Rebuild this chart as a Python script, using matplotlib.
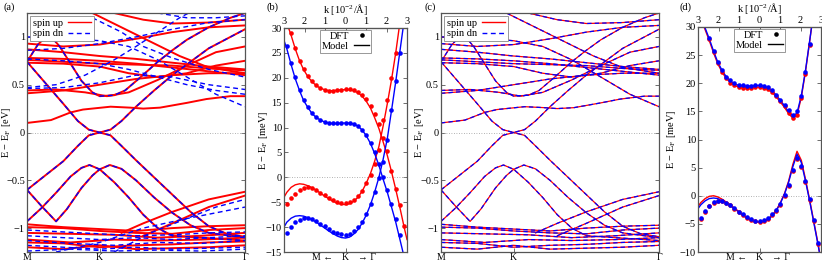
import numpy as np
import matplotlib
matplotlib.use("Agg")
import matplotlib.pyplot as plt

plt.rcParams['font.family'] = ['Liberation Serif', 'DejaVu Serif']
plt.rcParams['mathtext.fontset'] = 'stix'
plt.rcParams['font.size'] = 7.5

RED = '#ff0000'
BLUE = '#0000ff'
FRAME = '#555555'

# ---- panel (a)/(c): bands along M(0) - K(1) - Gamma(3), energies in eV ----
# bands degenerate for both spins in (a)
bands_both = [
    [(0, -0.60), (0.25, -0.45), (0.5, -0.30), (0.7, -0.14), (0.85, -0.03), (1.0, 0.0), (1.15, -0.03),
     (1.3, -0.14), (1.5, -0.29), (1.75, -0.47), (2.0, -0.65), (2.25, -0.83), (2.5, -0.98), (2.75, -1.06), (3.0, -1.09)],
    [(0, -0.60), (0.2, -0.77), (0.4, -0.93), (0.55, -0.80), (0.75, -0.58), (0.9, -0.45), (1.0, -0.385), (1.14, -0.34),
     (1.3, -0.38), (1.5, -0.50), (1.75, -0.68), (2.0, -0.84), (2.25, -0.97), (2.5, -1.05), (3.0, -1.10)],
    [(0, -0.93), (0.2, -0.79), (0.4, -0.63), (0.6, -0.46), (0.75, -0.37), (0.86, -0.34), (1.0, -0.385),
     (1.2, -0.52), (1.4, -0.68), (1.6, -0.86), (1.8, -1.0), (2.0, -1.08), (3.0, -1.13)],
    [(0, 0.74), (0.25, 0.52), (0.5, 0.30), (0.7, 0.12), (0.85, 0.03), (1.0, 0.0), (1.15, 0.03), (1.3, 0.12),
     (1.5, 0.27), (1.75, 0.44), (2.0, 0.60), (2.5, 0.88), (3.0, 1.08)],
    [(0, 0.74), (0.15, 0.92), (0.3, 1.03), (0.45, 0.90), (0.6, 0.72), (0.75, 0.54), (0.9, 0.42), (1.0, 0.38),
     (1.2, 0.39), (1.35, 0.44), (1.55, 0.57), (1.8, 0.74), (2.0, 0.86), (2.2, 0.97), (2.5, 1.10), (2.8, 1.20), (3.0, 1.25)],
]

# spin-up only bands in (a)
bands_up = [
    [(0, 0.10), (0.33, 0.13), (0.6, 0.21), (0.77, 0.24), (1.15, 0.27), (1.42, 0.26), (1.6, 0.25), (1.83, 0.26),
     (2.2, 0.31), (2.47, 0.35), (2.8, 0.38), (3.0, 0.38)],
    [(0, 0.41), (0.5, 0.44), (1.0, 0.50), (1.5, 0.56), (2.0, 0.60), (2.5, 0.62), (3.0, 0.62)],
    [(0, 0.44), (0.4, 0.45), (0.8, 0.42), (1.1, 0.38), (1.4, 0.42), (1.8, 0.55), (2.2, 0.70), (2.6, 0.84), (3.0, 0.90)],
    [(0, 0.78), (0.5, 0.77), (1.0, 0.75), (1.5, 0.72), (2.0, 0.68), (2.5, 0.64), (3.0, 0.60)],
    [(0, 0.76), (0.5, 0.74), (1.0, 0.72), (1.5, 0.71), (2.0, 0.70), (2.5, 0.67), (3.0, 0.65)],
    [(0, 0.73), (0.5, 0.72), (1.0, 0.69), (1.4, 0.62), (1.8, 0.58), (2.2, 0.62), (2.6, 0.70), (3.0, 0.75)],
    [(0, 0.87), (0.5, 0.84), (1.0, 0.80), (1.5, 0.77), (2.0, 0.73), (2.5, 0.69), (3.0, 0.66)],
    [(0, 0.93), (0.5, 0.90), (1.0, 0.92), (1.5, 0.98), (2.0, 1.05), (2.5, 1.10), (3.0, 1.12)],
    [(1.2, 1.25), (1.6, 1.18), (2.0, 1.14), (2.5, 1.15), (3.0, 1.18)],
    [(0.9, 1.25), (1.3, 1.10), (1.7, 0.95), (2.1, 0.80), (2.5, 0.68), (3.0, 0.62)],
    [(1.3, -1.05), (1.6, -0.95), (2.0, -0.83), (2.5, -0.70), (3.0, -0.62)],
    [(1.6, -1.08), (2.0, -0.95), (2.5, -0.78), (3.0, -0.66)],
    [(0, -0.96), (0.5, -0.99), (1.0, -1.01), (1.5, -1.03), (2.0, -1.00), (2.5, -0.98), (3.0, -0.97)],
    [(0, -0.99), (0.5, -1.00), (1.0, -1.03), (1.5, -1.05), (2.0, -1.06), (2.5, -1.02), (3.0, -1.00)],
    [(0, -1.05), (0.6, -1.06), (1.2, -1.07), (1.8, -1.10), (2.4, -1.08), (3.0, -1.05)],
    [(0, -1.12), (0.6, -1.15), (1.2, -1.12), (1.8, -1.13), (2.4, -1.12), (3.0, -1.10)],
    [(0, -1.15), (0.5, -1.16), (1.0, -1.20), (1.5, -1.18), (2.0, -1.17), (2.5, -1.15), (3.0, -1.14)],
    [(0, -1.20), (0.5, -1.22), (1.0, -1.18), (1.5, -1.22), (2.0, -1.21), (2.5, -1.20), (3.0, -1.18)],
]

# spin-down only bands in (a)
bands_dn = [
    [(0, 1.00), (0.5, 0.99), (1.0, 0.96), (1.4, 0.90), (1.8, 0.76), (2.2, 0.58), (2.6, 0.40), (3.0, 0.27)],
    [(0, 0.47), (0.4, 0.50), (0.8, 0.60), (1.2, 0.76), (1.5, 0.90), (1.8, 1.05), (2.1, 1.20), (2.3, 1.28)],
    [(0, 0.46), (0.5, 0.47), (1.0, 0.52), (1.5, 0.60), (2.0, 0.58), (2.5, 0.50), (3.0, 0.45)],
    [(0, 0.77), (0.5, 0.75), (1.0, 0.72), (1.4, 0.66), (1.8, 0.58), (2.2, 0.50), (2.6, 0.44), (3.0, 0.40)],
    [(0, 0.86), (0.5, 0.88), (1.0, 0.93), (1.5, 1.00), (2.0, 1.08), (2.5, 1.15), (3.0, 1.18)],
    [(1.8, 1.25), (2.2, 1.20), (2.6, 1.20), (3.0, 1.22)],
    [(0.9, 1.20), (1.3, 1.05), (1.6, 0.90), (2.0, 0.78), (2.5, 0.66), (3.0, 0.58)],
    [(1.2, -1.25), (1.7, -1.05), (2.2, -0.90), (2.6, -0.78), (3.0, -0.70)],
    [(0.4, -1.25), (1.0, -1.15), (1.6, -1.00), (2.2, -0.90), (3.0, -0.78)],
    [(0, -1.02), (0.5, -1.04), (1.0, -1.06), (1.5, -1.08), (2.0, -1.07), (2.5, -1.05), (3.0, -1.04)],
    [(0, -1.08), (0.5, -1.10), (1.0, -1.12), (1.5, -1.10), (2.0, -1.12), (2.5, -1.10), (3.0, -1.08)],
    [(0, -1.13), (0.6, -1.16), (1.2, -1.18), (1.8, -1.15), (2.4, -1.16), (3.0, -1.13)],
    [(0, -1.18), (0.5, -1.20), (1.0, -1.22), (1.5, -1.20), (2.0, -1.22), (2.5, -1.21), (3.0, -1.20)],
    [(0, -1.24), (0.6, -1.22), (1.2, -1.24), (1.8, -1.23), (2.4, -1.24), (3.0, -1.22)],
]

# ---- panel (b)/(d): k in 10^-2/A (negative towards M), energies in meV ----
k_dft = [-2.86, -2.65, -2.45, -2.24, -2.04, -1.83, -1.63, -1.42, -1.22, -1.01, -0.81, -0.61, -0.40, -0.20, 0.0,
         0.20, 0.40, 0.61, 0.81, 1.01, 1.22, 1.42, 1.63, 1.83, 2.04, 2.24, 2.45, 2.65, 2.86]
k_model = [-3.0] + k_dft + [3.0]
nan = np.nan

b_up1_dft = [nan, 29.0, 26.0, 23.4, 21.7, 20.4, 19.3, 18.5, 18.0, 17.6, 17.4, 17.4, 17.5, 17.6, 17.7,
             17.7, 17.5, 17.2, 16.6, 15.7, 14.4, 12.8, 10.8, 8.0, 5.2, 1.3, -2.4, -5.6, -9.8]
b_up2_dft = [-5.4, -4.2, -3.3, -2.6, -2.1, -2.0, -2.2, -2.6, -3.1, -3.6, -4.1, -4.5, -4.9, -5.1, -5.1,
             -4.9, -4.5, -3.8, -2.7, -1.2, 0.4, 2.6, 5.4, 11.5, 15.5, 20.0, 25.0, nan, nan]
b_dn1_dft = [26.4, 23.0, 20.1, 17.6, 15.6, 14.1, 12.9, 12.1, 11.6, 11.2, 11.0, 10.9, 10.9, 11.0, 11.0,
             11.0, 10.8, 10.4, 9.6, 8.5, 6.9, 5.0, 2.6, 0.0, -2.6, -5.4, -8.4, -11.6, nan]
b_dn2_dft = [-11.2, -10.0, -9.0, -8.5, -8.2, -8.2, -8.4, -8.8, -9.3, -9.8, -10.4, -10.9, -11.2, -11.4, -11.5,
             -11.3, -10.8, -10.0, -8.9, -7.4, -5.3, -2.9, -0.2, 3.0, 7.5, 13.5, 19.3, 25.0, nan]

b_up1_model = [33.5, 31.0, 28.5, 25.8, 23.4, 21.6, 20.2, 19.2, 18.4, 17.9, 17.6, 17.4, 17.4, 17.5, 17.6, 17.6,
               17.6, 17.4, 17.0, 16.3, 15.3, 13.9, 12.0, 9.8, 7.2, 4.4, 1.2, -2.4, -6.0, -10.0, -12.5]
b_up2_model = [-4.0, -3.0, -2.0, -1.5, -1.3, -1.4, -1.7, -2.1, -2.6, -3.2, -3.8, -4.3, -4.8, -5.2, -5.4, -5.5,
               -5.3, -4.8, -4.0, -2.8, -1.2, 0.8, 3.2, 6.2, 10.2, 14.8, 19.5, 25.0, 31.0, 36.0, 40.0]
b_dn1_model = [27.5, 25.8, 22.6, 19.8, 17.4, 15.4, 14.0, 12.8, 12.0, 11.5, 11.1, 10.9, 10.8, 10.8, 10.9, 10.9,
               10.9, 10.7, 10.3, 9.5, 8.4, 6.8, 4.8, 2.4, -0.3, -3.0, -5.9, -9.0, -12.4, -16.0, -18.5]
b_dn2_model = [-10.0, -9.0, -8.2, -7.8, -7.7, -7.8, -8.1, -8.5, -9.0, -9.6, -10.2, -10.8, -11.3, -11.8, -12.1, -12.2,
               -12.0, -11.4, -10.5, -9.2, -7.6, -5.5, -3.0, 0.0, 3.5, 7.8, 13.3, 19.2, 25.2, 31.5, 36.0]

d_up1_dft = [nan, nan, 27.8, 25.6, 23.6, 22.0, 20.9, 20.1, 19.6, 19.3, 19.2, 19.2, 19.2, 19.3, 19.3,
             19.2, 19.0, 18.5, 17.7, 16.8, 15.9, 14.8, 13.9, 14.3, 17.3, 21.7, 26.8, nan, nan]
d_dn1_dft = [nan, nan, 28.0, 25.8, 23.8, 22.3, 21.2, 20.5, 20.0, 19.7, 19.6, 19.5, 19.5, 19.6, 19.6,
             19.5, 19.3, 18.8, 18.0, 17.1, 16.2, 15.2, 14.4, 15.0, 17.8, 22.0, 27.0, nan, nan]
d_up2_dft = [-4.1, -2.8, -1.9, -1.2, -1.0, -1.0, -1.3, -1.7, -2.3, -2.9, -3.4, -3.9, -4.3, -4.5, -4.6,
             -4.5, -4.1, -3.5, -2.7, -1.6, 0.0, 1.8, 4.4, 6.6, 5.1, 2.4, -0.8, -4.5, -8.6]
d_dn2_dft = [-4.0, -2.7, -1.8, -1.1, -0.9, -0.9, -1.2, -1.6, -2.2, -2.8, -3.3, -3.8, -4.2, -4.4, -4.4,
             -4.3, -3.9, -3.3, -2.5, -1.4, 0.2, 2.0, 4.6, 6.8, 5.3, 2.6, -0.6, -4.3, -8.4]

d_up1_model = [33.5, 31.5, 29.5, 27.6, 25.4, 23.5, 22.0, 20.9, 20.1, 19.6, 19.3, 19.2, 19.2, 19.2, 19.3, 19.3,
               19.2, 18.9, 18.4, 17.6, 16.7, 15.7, 14.6, 13.8, 14.3, 17.5, 22.0, 27.5, 33.0, 40.0, 45.0]
d_dn1_model = [33.8, 31.8, 29.8, 27.9, 25.7, 23.8, 22.3, 21.2, 20.4, 19.9, 19.6, 19.5, 19.5, 19.5, 19.6, 19.6,
               19.5, 19.2, 18.7, 17.9, 17.0, 16.0, 14.9, 14.2, 14.7, 17.8, 22.2, 27.6, 33.0, 40.0, 45.0]
d_up2_model = [-1.9, -1.2, -0.5, -0.1, 0.0, -0.2, -0.6, -1.1, -1.6, -2.2, -2.8, -3.4, -3.9, -4.3, -4.6, -4.7,
               -4.6, -4.2, -3.5, -2.6, -1.3, 0.4, 2.6, 5.6, 7.9, 6.3, 3.0, -0.8, -4.6, -8.6, -11.5]
d_dn2_model = [-2.3, -1.6, -0.9, -0.5, -0.4, -0.5, -0.9, -1.3, -1.8, -2.3, -2.9, -3.5, -4.0, -4.4, -4.6, -4.7,
               -4.6, -4.2, -3.6, -2.7, -1.4, 0.3, 2.4, 5.2, 7.4, 5.9, 2.7, -1.0, -4.8, -8.8, -11.7]

W, H = 822, 264
fig = plt.figure(figsize=(W / 100, H / 100), dpi=100)


def px_axes(x0, y0, x1, y1):
    return fig.add_axes([x0 / W, 1 - y1 / H, (x1 - x0) / W, (y1 - y0) / H])


def style(ax):
    for s in ax.spines.values():
        s.set_color(FRAME)
        s.set_linewidth(0.9)
    ax.tick_params(direction='in', length=3, width=0.6, color=FRAME, pad=1.5,
                   right=True, labelsize=7.5)
    ax.tick_params(axis='x', pad=0.8, labelsize=7)


def draw(ax, band, color, lw, dashed=False):
    ks = [p[0] for p in band]
    es = [p[1] for p in band]
    if dashed:
        ax.plot(ks, es, color=color, lw=lw, dashes=(3.5, 2.5))
    else:
        ax.plot(ks, es, color=color, lw=lw)


def band_panel(ax, both, up, dn, lw_up, lw_dn, label_x):
    ax.axhline(0, color='#999999', lw=0.6, ls=(0, (1, 2)))
    for b in both + up:
        draw(ax, b, RED, lw_up)
    for b in both + dn:
        draw(ax, b, BLUE, lw_dn, dashed=True)
    ax.set_xlim(0, 3)
    ax.set_ylim(-1.25, 1.25)
    ax.set_xticks([0, 1, 3], labels=['M', 'K', 'Γ'])
    ax.set_yticks([-1, -0.5, 0, 0.5, 1], labels=['−1', '−0.5', '0', '0.5', '1'])
    ax.set_ylabel('E − E$_\\mathregular{F}$ [eV]')
    ax.yaxis.set_label_coords(label_x, 0.5)
    style(ax)
    ax.plot([], [], color=RED, lw=1.0, label='spin up')
    ax.plot([], [], color=BLUE, lw=1.0, dashes=(3.5, 2.5), label='spin dn')
    leg = ax.legend(loc='upper left', markerfirst=False, fontsize=7.5, handlelength=2.2,
                    borderaxespad=0.3, borderpad=0.25, labelspacing=0.1, handletextpad=0.5,
                    fancybox=False, framealpha=1, edgecolor='#888888')
    leg.get_frame().set_linewidth(0.6)


def zoom_panel(ax, up_dft, dn_dft, up_model, dn_model, ylim, yticks, label_x):
    ax.axhline(0, color='#999999', lw=0.6, ls=(0, (1, 2)))
    for band in up_model:
        ax.plot(k_model, band, color=RED, lw=1.0)
    for band in dn_model:
        ax.plot(k_model, band, color=BLUE, lw=1.0)
    for band in up_dft:
        ax.plot(k_dft, band, 'o', color=RED, ms=3.3, mew=0)
    for band in dn_dft:
        ax.plot(k_dft, band, 'o', color=BLUE, ms=3.3, mew=0)
    ax.set_xlim(-3, 3)
    ax.set_ylim(*ylim)
    ax.set_yticks(yticks, labels=[str(t).replace('-', '−') for t in yticks])
    ax.set_xticks([0], labels=['K'])
    ax.set_ylabel('E − E$_\\mathregular{F}$ [meV]')
    ax.yaxis.set_label_coords(label_x, 0.5)
    style(ax)
    for k, s, ha in [(-0.62, 'M ←', 'right'), (0.62, '→ Γ', 'left')]:
        ax.annotate(s, xy=(k, 0), xycoords=('data', 'axes fraction'), xytext=(0, -0.8),
                    textcoords='offset points', ha=ha, va='top', fontsize=7)
    sec = ax.secondary_xaxis('top')
    sec.set_xticks([-3, -2, -1, 0, 1, 2, 3], labels=['3', '2', '1', '0', '1', '2', '3'])
    sec.tick_params(direction='in', length=3, width=0.6, color=FRAME, pad=1.5, labelsize=7.5)
    sec.spines['top'].set_color(FRAME)
    sec.set_xlabel('k [10$^{\\mathregular{−2}}$/Å]', labelpad=2.5)
    ax.plot([], [], 'o', color='black', ms=3.3, mew=0, label='DFT')
    ax.plot([], [], color='black', lw=1.0, label='Model')
    leg = ax.legend(loc='upper center', markerfirst=False, fontsize=7.5, handlelength=1.4,
                    borderaxespad=0.15, borderpad=0.2, labelspacing=0.05, handletextpad=0.5,
                    fancybox=False, framealpha=1, edgecolor='#888888')
    leg.get_frame().set_linewidth(0.6)


axa = px_axes(27, 13, 245, 252)
band_panel(axa, bands_both, bands_up, bands_dn, 1.4, 1.0, -0.064)

axb = px_axes(284, 28, 407, 252)
zoom_panel(axb, [b_up1_dft, b_up2_dft], [b_dn1_dft, b_dn2_dft],
           [b_up1_model, b_up2_model], [b_dn1_model, b_dn2_model],
           (-15, 30), [-15, -10, -5, 0, 5, 10, 15, 20, 25, 30], -0.114)

axc = px_axes(441, 13, 659, 252)
bands_c = bands_both + bands_up + bands_dn[:1]
band_panel(axc, bands_c, [], [], 0.9, 0.9, -0.069)

axd = px_axes(698, 27, 821, 252)
zoom_panel(axd, [d_up1_dft, d_up2_dft], [d_dn1_dft, d_dn2_dft],
           [d_up1_model, d_up2_model], [d_dn1_model, d_dn2_model],
           (-10, 30), [-10, -5, 0, 5, 10, 15, 20, 25, 30], -0.163)

for lab, x in [('(a)', 3), ('(b)', 266), ('(c)', 424), ('(d)', 679)]:
    fig.text(x / W, 1 - 7 / H, lab, ha='left', va='center', fontsize=7.5)

fig.savefig('out.png', dpi=100)
